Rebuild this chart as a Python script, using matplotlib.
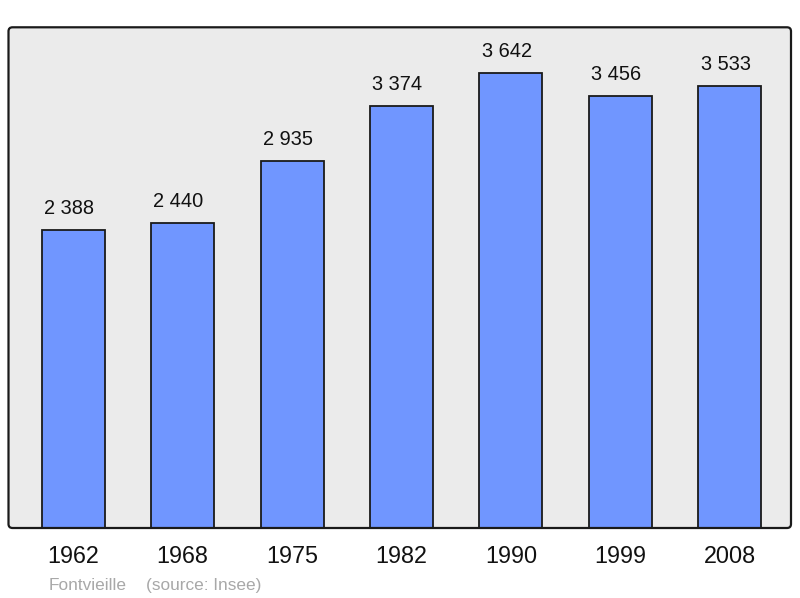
import matplotlib
matplotlib.use("Agg")
import matplotlib.pyplot as plt
from matplotlib.patches import FancyBboxPatch
from matplotlib.transforms import IdentityTransform

years = ["1962", "1968", "1975", "1982", "1990", "1999", "2008"]
population = [2388, 2440, 2935, 3374, 3642, 3456, 3533]
value_labels = ["2 388", "2 440", "2 935", "3 374", "3 642", "3 456", "3 533"]
commune = "Fontvieille"
source = "(source: Insee)"

plt.rcParams['font.family'] = ['Liberation Sans', 'DejaVu Sans']

W, H = 800, 598
fig = plt.figure(figsize=(W / 100, H / 100), dpi=100)
fig.patch.set_facecolor("white")

x0, x1, y0, y1 = 8.5, 791.0, 27.3, 528.0
ax = fig.add_axes([x0 / W, 1 - y1 / H, (x1 - x0) / W, (y1 - y0) / H])
ax.set_facecolor("#ebebeb")
for s in ax.spines.values():
    s.set_visible(False)

pos = list(range(len(years)))
ax.bar(pos, population, width=0.576, color="#7096ff", edgecolor="#1a1a1a",
       linewidth=1.3, zorder=2)
ax.set_xlim(-0.591, 6.56)
ax.set_ylim(0, 4006)
ax.set_yticks([])
ax.set_xticks(pos)
ax.set_xticklabels(years, fontsize=16.8, color="#111111")
ax.tick_params(axis="x", length=0, pad=12.5)

for p, v, lab in zip(pos, population, value_labels):
    ax.annotate(lab, (p, v), xytext=(-4, 16), textcoords="offset pixels",
                ha="center", va="baseline", fontsize=14.4, color="#111111")

# rounded frame
frame = FancyBboxPatch((x0, H - y1), x1 - x0, y1 - y0,
                       boxstyle="round,pad=0,rounding_size=4",
                       transform=IdentityTransform(), fill=False,
                       edgecolor="#1a1a1a", linewidth=1.6, zorder=5)
fig.patches.append(frame)

fig.text(49 / W, 1 - 590 / H, commune, fontsize=12.4, color="#a8a8a8",
         ha="left", va="baseline")
fig.text(146.5 / W, 1 - 590 / H, source, fontsize=12.4, color="#a8a8a8",
         ha="left", va="baseline")

fig.savefig("out.png", dpi=100, facecolor="white")
